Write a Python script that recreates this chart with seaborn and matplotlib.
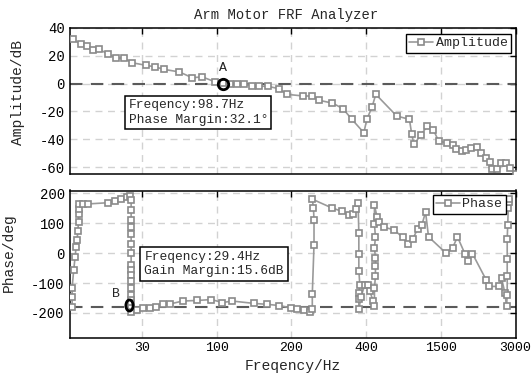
import numpy as np
import pandas as pd
import matplotlib
matplotlib.use('Agg')
import matplotlib.pyplot as plt
from matplotlib.markers import MarkerStyle
from matplotlib.transforms import Affine2D
import seaborn as sns

# x positions are in tick units: tick i sits at frequency tick_labels[i-1]
tick_pos = [1, 2, 3, 4, 5, 6]
tick_labels = ['30', '100', '200', '400', '1500', '3000']

amp_pos = [0.08, 0.18, 0.26, 0.35, 0.42, 0.55, 0.65, 0.76, 0.86, 1.05, 1.18, 1.29,
           1.50, 1.67, 1.81, 1.98, 2.08, 2.18, 2.27, 2.36, 2.47, 2.56, 2.69, 2.83,
           2.94, 3.16, 3.27, 3.37, 3.55, 3.69, 3.81, 3.97, 4.01, 4.08, 4.13, 4.41,
           4.58, 4.61, 4.64, 4.73, 4.82, 4.90, 4.97, 5.08, 5.17, 5.21, 5.28, 5.34,
           5.41, 5.48, 5.54, 5.61, 5.66, 5.69, 5.75, 5.81, 5.87, 5.92, 6.00]
amp_db = [31.9, 28.3, 27.0, 24.0, 24.7, 21.3, 18.4, 18.4, 15.1, 13.2, 12.0, 10.3,
          8.4, 4.3, 4.8, 1.2, 0.3, 0.0, -0.3, -0.5, -1.7, -1.7, -2.0, -3.6,
          -7.7, -8.9, -8.9, -12.0, -14.0, -18.0, -25.7, -35.3, -25.7, -16.8, -7.7, -23.3,
          -25.7, -36.0, -43.7, -37.2, -30.5, -33.1, -41.3, -42.5, -44.4, -46.8, -48.5, -48.0,
          -46.0, -45.6, -49.9, -53.2, -56.4, -61.5, -61.5, -57.0, -57.0, -61.0, -65.0]

phase_pos = [0.065, 0.065, 0.065, 0.087, 0.105, 0.119, 0.132, 0.141, 0.151, 0.155, 0.151, 0.155,
             0.209, 0.276, 0.539, 0.639, 0.720, 0.796, 0.841,
             0.855, 0.855, 0.855, 0.855, 0.855, 0.855, 0.855, 0.855, 0.855, 0.855, 0.855,
             0.855, 0.855, 0.855, 0.855, 0.855, 0.855,
             0.932, 1.009, 1.103, 1.183, 1.276, 1.373, 1.543, 1.743, 1.929, 2.076, 2.209,
             2.503, 2.676, 2.836, 2.996, 3.076, 3.169, 3.249, 3.280, 3.280,
             3.303, 3.303, 3.296, 3.280,
             3.539, 3.680, 3.769, 3.823, 3.867, 3.893,
             3.903, 3.903, 3.903, 3.916, 3.903, 3.903, 3.903,
             3.933, 3.983, 4.027, 4.049, 4.093, 4.112,
             4.112, 4.125, 4.125, 4.125, 4.112, 4.125, 4.112, 4.112,
             4.147, 4.169, 4.236, 4.369, 4.493, 4.560, 4.627, 4.689, 4.747, 4.796, 4.836,
             5.072, 5.160, 5.223, 5.325, 5.369, 5.423, 5.605, 5.649, 5.783, 5.813, 5.859, 5.880,
             5.889, 5.889, 5.889, 5.889, 5.896, 5.903, 5.909, 5.916]
phase_deg = [-180, -146, -115, -55, -12, 22, 44, 74, 105, 130, 147, 165,
             165, 165, 169, 175, 182, 187, 192,
             178, 144, 110, 88, 65, 31, 2, -38, -55, -72, -94,
             -117, -140, -157, -168, -183, -197,
             -190, -183, -183, -180, -170, -170, -160, -158, -155, -165, -160,
             -168, -171, -175, -183, -185, -190, -197, -186, -137,
             29, 110, 150, 181,
             152, 140, 129, 130, 147, 167,
             67, -3, -58, -105, -134, -154, -188,
             -145, -105, -105, -125, -160, -178,
             -117, -77, -43, -15, 19, 53, 99, 161,
             121, 106, 87, 79, 53, 31, 48, 82, 95, 138, 55,
             0, 19, 55, -3, -26, -1, -88, -111, -111, -83, -134, -178,
             -140, -77, -20, 48, 96, 150, 170, 180]

point_a = (2.08, 0.0)
point_b = (0.82, -172.0)

amp_df = pd.DataFrame({'pos': amp_pos, 'val': amp_db})
phase_df = pd.DataFrame({'pos': phase_pos, 'val': phase_deg})

sns.set_style('white')
plt.rcParams['font.family'] = ['Liberation Mono', 'DejaVu Sans']
plt.rcParams['axes.unicode_minus'] = False

line_kw = dict(color='#9a9a9a', linewidth=1.2, marker='s', markersize=4.6,
               markerfacecolor='white', markeredgecolor='#8a8a8a', markeredgewidth=1.2)

fig = plt.figure(figsize=(5.31, 3.79), dpi=100)
ax1 = fig.add_axes([69.5 / 531, 1 - 174 / 379, 446 / 531, 146 / 379])
ax2 = fig.add_axes([69.5 / 531, 1 - 337.5 / 379, 446 / 531, 147 / 379])

for ax in (ax1, ax2):
    ax.grid(True, linestyle=(0, (5, 4)), color='#d2d2d2', linewidth=1.0)
    ax.set_axisbelow(True)
    ax.set_xlim(0.03, 6.0)
    ax.set_xticks(tick_pos)
    ax.tick_params(direction='in', top=True, right=True, length=4, width=1,
                   labelsize=10, colors='black')
    ax.tick_params(axis='x', labelsize=9.5)
    for sp in ax.spines.values():
        sp.set_color('black')
        sp.set_linewidth(1.1)

# Amplitude panel
ax1.axhline(0, color='#5a5a5a', linestyle=(0, (6, 4)), linewidth=1.5, zorder=1)
sns.lineplot(data=amp_df, x='pos', y='val', ax=ax1, sort=False, estimator=None,
             label='Amplitude', zorder=3, **line_kw)
ax1.plot([point_a[0]], [point_a[1]], 'o', ms=7.5, mfc='none', mec='black', mew=2, zorder=4)
ax1.text(point_a[0], 11, 'A', ha='center', va='center', fontsize=9.5)
ax1.set_ylim(-65, 40)
ax1.set_yticks([40, 20, 0, -20, -40, -60])
ax1.set_xticklabels([])
ax1.set_xlabel('')
ax1.set_ylabel('Amplitude/dB', fontsize=10.5)
ax1.yaxis.set_label_coords(-0.099, 0.56)
ax1.text(0.289, 0.42, 'Freqency:98.7Hz\nPhase Margin:32.1°', transform=ax1.transAxes,
         ha='center', va='center', multialignment='left', fontsize=9.3, linespacing=1.3,
         zorder=5, bbox=dict(boxstyle='square,pad=0.25', fc='white', ec='black', lw=1.1))
ax1.legend(loc='upper right', bbox_to_anchor=(0.99, 0.96), borderaxespad=0, fontsize=9.5,
           handlelength=1.8, handletextpad=0.2, borderpad=0.25, fancybox=False,
           framealpha=1, edgecolor='black')

# Phase panel
ax2.axhline(-180, color='#5a5a5a', linestyle=(0, (6, 4)), linewidth=1.5, zorder=1)
sns.lineplot(data=phase_df, x='pos', y='val', ax=ax2, sort=False, estimator=None,
             label='Phase', zorder=3, **line_kw)
ellipse = MarkerStyle('o', fillstyle='none', transform=Affine2D().scale(0.65, 1.0))
ax2.plot([point_b[0]], [point_b[1]], marker=ellipse, ms=8, mec='black', mew=2,
         linestyle='none', zorder=4)
ax2.text(0.647, -138, 'B', ha='center', va='center', fontsize=9.5)
ax2.set_ylim(-282, 210)
ax2.set_yticks([200, 100, 0, -100, -200])
ax2.set_xticklabels(tick_labels)
ax2.set_xlabel('Freqency/Hz', fontsize=10.5, labelpad=3)
ax2.set_ylabel('Phase/deg', fontsize=10.5)
ax2.yaxis.set_label_coords(-0.121, 0.575)
ax2.text(0.324, 0.5, 'Freqency:29.4Hz\nGain Margin:15.6dB', transform=ax2.transAxes,
         ha='center', va='center', multialignment='left', fontsize=9.3, linespacing=1.3,
         zorder=5, bbox=dict(boxstyle='square,pad=0.3', fc='white', ec='black', lw=1.1))
ax2.legend(loc='upper right', bbox_to_anchor=(0.978, 0.97), borderaxespad=0, fontsize=9.5,
           handlelength=1.8, handletextpad=0.2, borderpad=0.25, fancybox=False,
           framealpha=1, edgecolor='black')

fig.text(286.6 / 531, 1 - 15.3 / 379, 'Arm Motor FRF Analyzer', ha='center', va='center',
         fontsize=10)

fig.savefig('out.png', dpi=100)
